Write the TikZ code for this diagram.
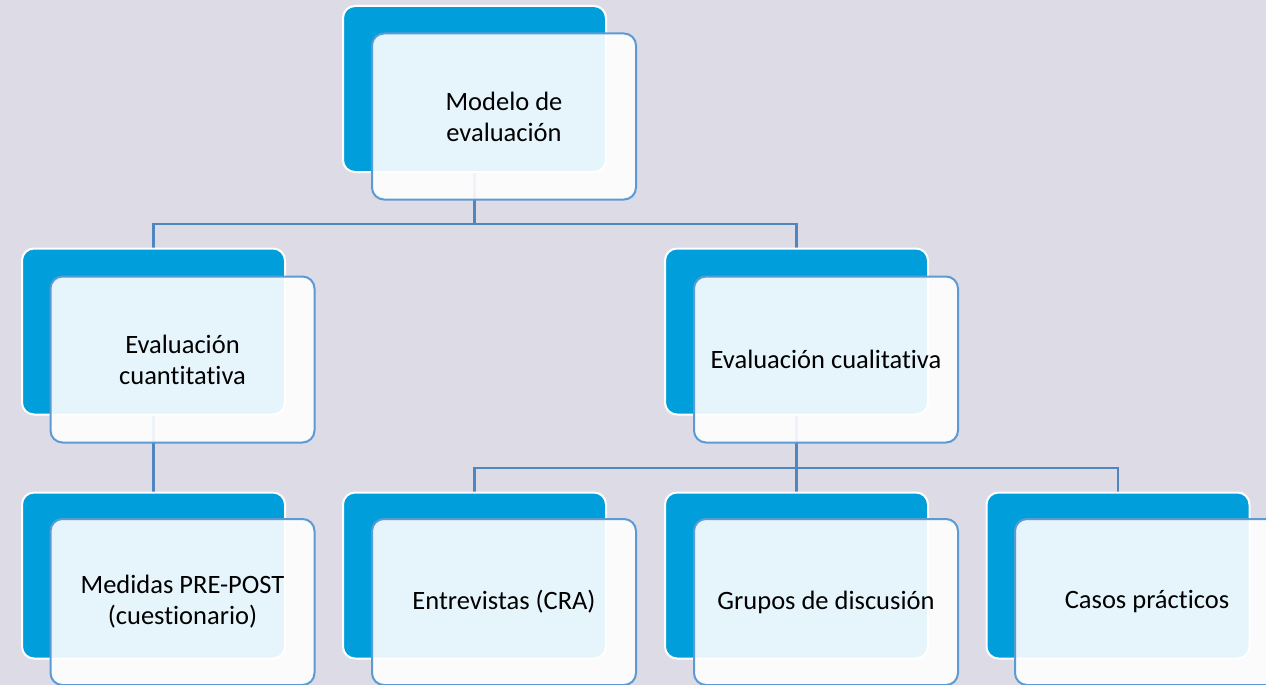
\documentclass[tikz,border=0pt]{standalone}
\usepackage{fontspec}
\setmainfont[Ligatures={NoCommon}]{Carlito}
\definecolor{bgc}{RGB}{221,219,229}
\definecolor{backblue}{RGB}{0,158,218}
\definecolor{frontline}{RGB}{91,155,213}
\definecolor{connc}{RGB}{79,134,192}
\pgfdeclarelayer{canvas}
\pgfdeclarelayer{lines}
\pgfsetlayers{canvas,lines,main}
\tikzset{
  backbox/.style={draw=white, line width=2pt, fill=backblue, rounded corners=12pt,
    minimum width=263pt, minimum height=166pt, inner sep=0pt},
  frontbox/.style={draw=frontline, line width=2pt, fill=white, fill opacity=0.9,
    text opacity=1, draw opacity=1, rounded corners=12pt,
    minimum width=264pt, minimum height=166pt, inner sep=0pt, align=center,
    font=\fontsize{26.5}{31}\selectfont, text=black},
  conn/.style={draw=connc, line width=2.5pt}
}
\begin{document}
\begin{tikzpicture}[x=1pt,y=-1pt]
\useasboundingbox (0,0) rectangle (1266,685);
\clip (0,0) rectangle (1266,685);
\begin{pgfonlayer}{canvas}
\fill[bgc] (0,0) rectangle (1266,685);
\end{pgfonlayer}
\coordinate (j1) at (474.5,224);
\coordinate (j2) at (796.5,468);
% back boxes
\node[backbox] (b1) at (474.5,89) {};
\node[backbox] (b2l) at (153.5,331.5) {};
\node[backbox] (b2r) at (796.5,331.5) {};
\node[backbox] (b3a) at (153.5,575.5) {};
\node[backbox] (b3b) at (474.5,575.5) {};
\node[backbox] (b3c) at (796.5,575.5) {};
\node[backbox] (b3d) at (1118,575.5) {};
% connectors
\begin{pgfonlayer}{lines}
\draw[conn] (b1.south) -- (j1);
\draw[conn] (b2l.north) |- (j1) -| (b2r.north);
\draw[conn] (b2l.south) -- (b3a.north);
\draw[conn] (b2r.south) -- (j2);
\draw[conn] (b3b.north) |- (j2) -| (b3d.north);
\draw[conn] (j2) -- (b3c.north);
\end{pgfonlayer}
% front boxes
\node[frontbox] (f1) at (504,116.5) {Modelo de\\evaluación};
\node[frontbox] (f2l) at (182.5,359.5) {Evaluación\\cuantitativa};
\node[frontbox] (f2r) at (826,359.5) {Evaluación cualitativa};
\node[frontbox] (f3a) at (182.5,602) {Medidas PRE-POST\\(cuestionario)};
\node[frontbox] (f3b) at (504,602) {Entrevistas (CRA)};
\node[frontbox] (f3c) at (826,602) {Grupos de discusión};
\node[frontbox] (f3d) at (1147,602) {Casos prácticos};
\end{tikzpicture}
\end{document}
